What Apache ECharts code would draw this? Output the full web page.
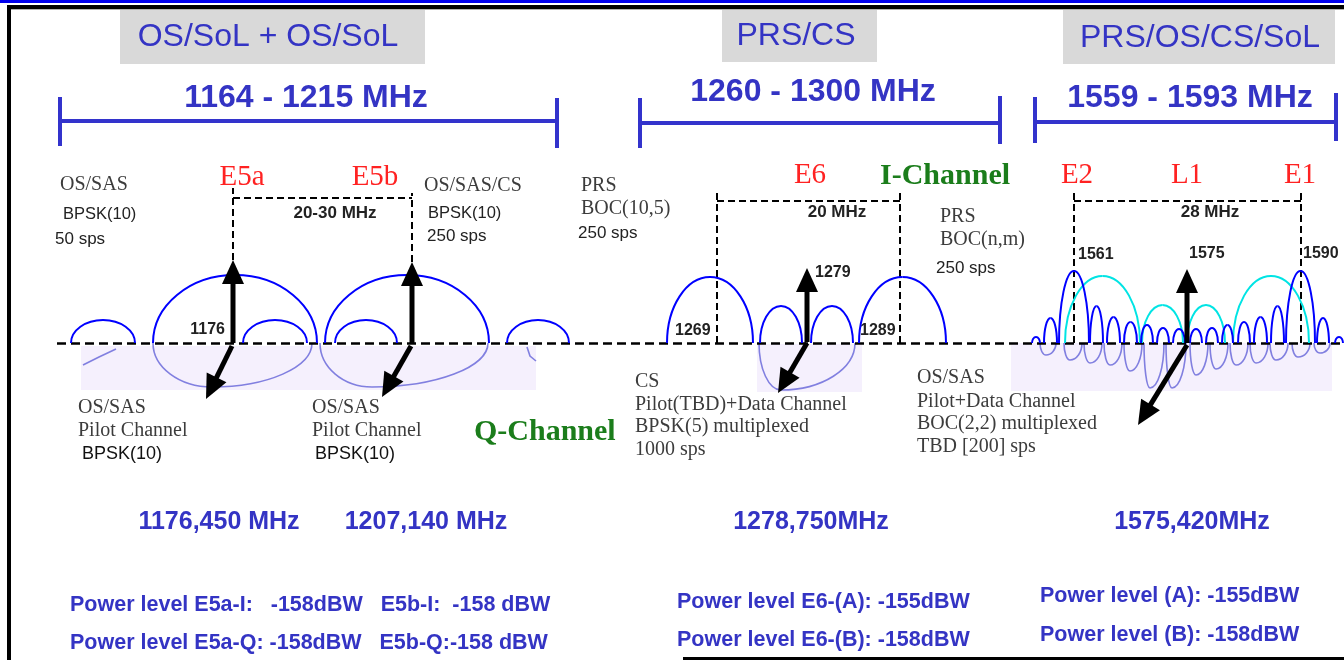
<!DOCTYPE html>
<html>
<head>
<meta charset="utf-8">
<title>Galileo frequency plan</title>
<script src="https://cdn.jsdelivr.net/npm/echarts@6/dist/echarts.min.js"></script>
<style>
  html, body { margin: 0; padding: 0; background: #fff; }
  #plan { width: 1344px; height: 660px; }
</style>
</head>
<body>
<div id="plan"></div>
<script>
// --- values (diagram units, baseline = 0) ---
var bandTitles = ['OS/SoL + OS/SoL', 'PRS/CS', 'PRS/OS/CS/SoL'];
var bandRanges = ['1164 - 1215 MHz', '1260 - 1300 MHz', '1559 - 1593 MHz'];
var signalNames = ['E5a', 'E5b', 'E6', 'E2', 'L1', 'E1'];
var spacings = ['20-30 MHz', '20 MHz', '28 MHz'];
var lobeEdges = ['1176', '1269', '1279', '1289', '1561', '1575', '1590'];
var carrierFreqs = ['1176,450 MHz', '1207,140 MHz', '1278,750MHz', '1575,420MHz'];
var powerE5 = ['Power level E5a-I:   -158dBW   E5b-I:  -158 dBW', 'Power level E5a-Q: -158dBW   E5b-Q:-158 dBW'];
var powerE6 = ['Power level E6-(A): -155dBW', 'Power level E6-(B): -158dBW'];
var powerL1 = ['Power level (A): -155dBW', 'Power level (B): -158dBW'];

// [start, end, height]
var lobesE5 = [[71, 135, 23], [153, 317, 68], [243, 307, 23], [325, 489, 68], [335, 397, 23], [507, 569, 23]];
var lobesE6 = [[667, 753, 66], [760, 802, 37], [811, 853, 37], [859, 946, 66]];
var lobesL1 = [[1032, 1040, 6], [1044, 1057, 25], [1059, 1089, 72], [1090, 1103, 37], [1107, 1120, 26],
  [1124, 1137, 21], [1141, 1153, 18], [1157, 1169, 15], [1173, 1185, 14], [1190, 1202, 14],
  [1206, 1218, 15], [1222, 1233, 18], [1238, 1250, 21], [1254, 1267, 26], [1271, 1284, 37],
  [1286, 1315, 72], [1317, 1329, 25], [1335, 1343, 6]];
var lobesMboc = [[1065, 1140, 67], [1142, 1183, 38], [1187, 1225, 38], [1233, 1309, 67]];
// Q-channel lobes: [start, end, depth, peak position]
var lobesQ = [[153, 312, -44, 212], [320, 488, -44, 372], [759, 855, -47, 781],
  [1040, 1056, -12, 1046], [1064, 1082, -17, 1070], [1084, 1102, -20, 1090], [1104, 1122, -22, 1110],
  [1124, 1142, -28, 1130], [1144, 1164, -45, 1150], [1166, 1186, -45, 1172], [1190, 1208, -32, 1196],
  [1210, 1228, -26, 1216], [1230, 1248, -22, 1236], [1250, 1268, -20, 1256], [1270, 1288, -17, 1276],
  [1292, 1310, -14, 1298], [1314, 1330, -10, 1320]];
var qTraces = [[[83, -22], [99, -14], [116, -6]], [[527, -4], [530, -13], [536, -18]]];
// [x0, y0, x1, y1]
var carrierArrows = [[233, 0, 233, 83], [412, 0, 412, 81], [807, 1, 807, 75], [1187, 0, 1187, 74]];
var pilotArrows = [[232, -3, 206, -56], [411, -3, 382, -54], [807, 0, 778, -50], [1187, -2, 1138, -82]];
// [x0, x1, top, bottom]
var qShades = [[81, 536, -3, -47], [757, 862, -1, -49], [1011, 1332, 0, -48]];

var blue = '#3434c4';
var sans = 'Liberation Sans';
var serif = 'Liberation Serif';

function txt(x, y, text, font, color, align) {
  return {
    type: 'text', x: x, y: y, silent: true,
    style: { text: text, font: font, fill: color, align: align || 'left', verticalAlign: 'middle' }
  };
}

function lobeRenderer(color, width, opacity) {
  return function (params, api) {
    var x0 = api.value(0), x1 = api.value(1), h = api.value(2);
    var xp = api.value(3);
    if (xp == null || isNaN(xp)) xp = (x0 + x1) / 2;
    var a = api.coord([x0, 0]), b = api.coord([x1, 0]), p = api.coord([xp, h]);
    var k = 0.5523;
    var st = { stroke: color, lineWidth: width, fill: 'none', opacity: opacity };
    return {
      type: 'group',
      children: [
        { type: 'bezierCurve', shape: { x1: a[0], y1: a[1], cpx1: a[0], cpy1: a[1] + (p[1] - a[1]) * k,
          cpx2: p[0] - (p[0] - a[0]) * k, cpy2: p[1], x2: p[0], y2: p[1] }, style: st },
        { type: 'bezierCurve', shape: { x1: p[0], y1: p[1], cpx1: p[0] + (b[0] - p[0]) * k, cpy1: p[1],
          cpx2: b[0], cpy2: b[1] + (p[1] - b[1]) * k, x2: b[0], y2: b[1] }, style: st }
      ]
    };
  };
}

function arrowRenderer(params, api) {
  var s = api.coord([api.value(0), api.value(1)]);
  var e = api.coord([api.value(2), api.value(3)]);
  var dx = e[0] - s[0], dy = e[1] - s[1];
  var len = Math.sqrt(dx * dx + dy * dy);
  var ux = dx / len, uy = dy / len;
  var hl = 24, hw = 11;
  var bx = e[0] - ux * hl, by = e[1] - uy * hl;
  return {
    type: 'group',
    children: [
      { type: 'line', shape: { x1: s[0], y1: s[1], x2: bx + ux * 3, y2: by + uy * 3 },
        style: { stroke: '#000', lineWidth: 5 } },
      { type: 'polygon', shape: { points: [[e[0], e[1]], [bx - uy * hw, by + ux * hw], [bx + uy * hw, by - ux * hw]] },
        style: { fill: '#000' } }
    ]
  };
}

function shadeRenderer(params, api) {
  var a = api.coord([api.value(0), api.value(2)]);
  var b = api.coord([api.value(1), api.value(3)]);
  return { type: 'rect', shape: { x: a[0], y: a[1], width: b[0] - a[0], height: b[1] - a[1] },
    style: { fill: '#f5f0fd' } };
}

var brackets = [
  [[60, 222], [557, 222]], [[60, 246], [60, 197]], [[557, 245], [557, 195]],
  [[640, 220], [1000, 220]], [[640, 245], [640, 195]], [[1000, 247], [1000, 199]],
  [[1035, 221], [1336, 221]], [[1035, 246], [1035, 200]], [[1336, 250], [1336, 202]]
];
var spacingBoxes = [
  [[233, 83], [233, 155]], [[233, 145], [412, 145]], [[412, 81], [412, 150]],
  [[717, 0], [717, 151]], [[717, 142], [900, 142]], [[900, 0], [900, 151]],
  [[1074, 0], [1074, 150]], [[1074, 142], [1301, 142]], [[1301, 0], [1301, 150]]
];

var chart = echarts.init(document.getElementById('plan'));

var grey = '#3c3c3c';
var f20s = '20px ' + serif;
var f17 = '17px ' + sans;
var red = '#ff2222';
var green = '#1b7d1b';
var titleFont = '32px ' + sans;
var rangeFont = 'bold 32px ' + sans;
var freqFont = 'bold 25px ' + sans;
var powerFont = 'bold 21.5px ' + sans;
var numFont = 'bold 16px ' + sans;

var graphics = [
  // frame
  { type: 'rect', shape: { x: 0, y: 0, width: 1344, height: 3 }, style: { fill: '#0000ee' } },
  { type: 'rect', shape: { x: 7, y: 5, width: 1337, height: 4 }, style: { fill: '#000' } },
  { type: 'rect', shape: { x: 7, y: 5, width: 4, height: 655 }, style: { fill: '#000' } },
  { type: 'rect', shape: { x: 11, y: 9, width: 1333, height: 1 }, style: { fill: '#b0b0b0' } },
  { type: 'rect', shape: { x: 683, y: 657, width: 661, height: 3 }, style: { fill: '#000' } },
  // band titles
  { type: 'rect', shape: { x: 120, y: 10, width: 305, height: 54 }, style: { fill: '#d9d9d9' } },
  { type: 'rect', shape: { x: 722, y: 10, width: 155, height: 52 }, style: { fill: '#d9d9d9' } },
  { type: 'rect', shape: { x: 1063, y: 10, width: 272, height: 54 }, style: { fill: '#d9d9d9' } },
  txt(268, 37, bandTitles[0], titleFont, blue, 'center'),
  txt(796, 36, bandTitles[1], titleFont, blue, 'center'),
  txt(1200, 38, bandTitles[2], titleFont, blue, 'center'),
  txt(306, 98, bandRanges[0], rangeFont, blue, 'center'),
  txt(813, 92, bandRanges[1], rangeFont, blue, 'center'),
  txt(1190, 98, bandRanges[2], rangeFont, blue, 'center'),
  // signal names
  txt(242, 177, signalNames[0], '29px ' + serif, red, 'center'),
  txt(375, 177, signalNames[1], '29px ' + serif, red, 'center'),
  txt(810, 175, signalNames[2], '29px ' + serif, red, 'center'),
  txt(1077, 175, signalNames[3], '29px ' + serif, red, 'center'),
  txt(1187, 175, signalNames[4], '29px ' + serif, red, 'center'),
  txt(1300, 175, signalNames[5], '29px ' + serif, red, 'center'),
  txt(880, 176, 'I-Channel', 'bold 30px ' + serif, green, 'left'),
  txt(474, 432, 'Q-Channel', 'bold 30px ' + serif, green, 'left'),
  // spacings and lobe edge labels
  txt(335, 213, spacings[0], 'bold 17px ' + sans, '#222', 'center'),
  txt(837, 212, spacings[1], 'bold 17px ' + sans, '#222', 'center'),
  txt(1210, 212, spacings[2], 'bold 17px ' + sans, '#222', 'center'),
  txt(225, 330, lobeEdges[0], numFont, '#222', 'right'),
  txt(675, 331, lobeEdges[1], numFont, '#222', 'left'),
  txt(815, 273, lobeEdges[2], numFont, '#222', 'left'),
  txt(860, 331, lobeEdges[3], numFont, '#222', 'left'),
  txt(1078, 255, lobeEdges[4], numFont, '#222', 'left'),
  txt(1189, 254, lobeEdges[5], numFont, '#222', 'left'),
  txt(1303, 254, lobeEdges[6], numFont, '#222', 'left'),
  // signal descriptions
  txt(60, 185, 'OS/SAS', f20s, grey), txt(63, 214, 'BPSK(10)', '16.5px ' + sans, '#222'), txt(55, 239, '50 sps', f17, '#222'),
  txt(424, 186, 'OS/SAS/CS', f20s, grey), txt(428, 213, 'BPSK(10)', '16.5px ' + sans, '#222'), txt(427, 236, '250 sps', f17, '#222'),
  txt(78, 408, 'OS/SAS', f20s, grey), txt(78, 431, 'Pilot Channel', f20s, grey), txt(82, 454, 'BPSK(10)', '18px ' + sans, '#111'),
  txt(312, 408, 'OS/SAS', f20s, grey), txt(312, 431, 'Pilot Channel', f20s, grey), txt(315, 454, 'BPSK(10)', '18px ' + sans, '#111'),
  txt(581, 186, 'PRS', f20s, grey), txt(581, 209, 'BOC(10,5)', f20s, grey), txt(578, 233, '250 sps', f17, '#222'),
  txt(940, 217, 'PRS', f20s, grey), txt(940, 240, 'BOC(n,m)', f20s, grey), txt(936, 268, '250 sps', f17, '#222'),
  txt(635, 382, 'CS', f20s, grey), txt(635, 405, 'Pilot(TBD)+Data Channel', f20s, grey),
  txt(635, 427, 'BPSK(5) multiplexed', f20s, grey), txt(635, 450, '1000 sps', f20s, grey),
  txt(917, 378, 'OS/SAS', f20s, grey), txt(917, 402, 'Pilot+Data Channel', f20s, grey),
  txt(917, 424, 'BOC(2,2) multiplexed', f20s, grey), txt(917, 447, 'TBD [200] sps', f20s, grey),
  // carrier frequencies and power levels
  txt(219, 522, carrierFreqs[0], freqFont, blue, 'center'),
  txt(426, 522, carrierFreqs[1], freqFont, blue, 'center'),
  txt(811, 522, carrierFreqs[2], freqFont, blue, 'center'),
  txt(1192, 522, carrierFreqs[3], freqFont, blue, 'center'),
  txt(70, 605, powerE5[0], powerFont, blue), txt(70, 643, powerE5[1], powerFont, blue),
  txt(677, 602, powerE6[0], powerFont, blue), txt(677, 640, powerE6[1], powerFont, blue),
  txt(1040, 596, powerL1[0], powerFont, blue), txt(1040, 635, powerL1[1], powerFont, blue)
];

function segs(list) {
  return list.map(function (c) { return { coords: c }; });
}

chart.setOption({
  animation: false,
  backgroundColor: '#fff',
  grid: { left: 0, right: 0, top: 0, bottom: 0 },
  xAxis: { type: 'value', min: 0, max: 1344, show: false },
  yAxis: { type: 'value', min: -317, max: 343, show: false },
  graphic: graphics,
  series: [
    { type: 'custom', renderItem: shadeRenderer, data: qShades, z: 1 },
    { type: 'custom', renderItem: lobeRenderer('#5a5ad6', 1.6, 0.75), data: lobesQ, z: 2 },
    { type: 'lines', coordinateSystem: 'cartesian2d', polyline: true, z: 2,
      lineStyle: { color: '#5a5ad6', width: 1.6, opacity: 0.75, curveness: 0 }, data: segs(qTraces) },
    { type: 'lines', coordinateSystem: 'cartesian2d', z: 3,
      lineStyle: { color: '#000', width: 2.5, type: [9, 5], opacity: 1 }, data: segs([[[57, 0], [1344, 0]]]) },
    { type: 'lines', coordinateSystem: 'cartesian2d', z: 3,
      lineStyle: { color: '#000', width: 2, type: [7, 4], opacity: 1 }, data: segs(spacingBoxes) },
    { type: 'lines', coordinateSystem: 'cartesian2d', z: 3,
      lineStyle: { color: '#3333cc', width: 4, opacity: 1 }, data: segs(brackets) },
    { type: 'custom', renderItem: lobeRenderer('#00e4e4', 2, 1), data: lobesMboc, z: 4 },
    { type: 'custom', renderItem: lobeRenderer('#0000ff', 2, 1), data: lobesE5, z: 5 },
    { type: 'custom', renderItem: lobeRenderer('#0000ff', 2, 1), data: lobesE6, z: 5 },
    { type: 'custom', renderItem: lobeRenderer('#0000ff', 2, 1), data: lobesL1, z: 5 },
    { type: 'custom', renderItem: arrowRenderer, data: carrierArrows, z: 6 },
    { type: 'custom', renderItem: arrowRenderer, data: pilotArrows, z: 6 }
  ]
});
</script>
</body>
</html>
